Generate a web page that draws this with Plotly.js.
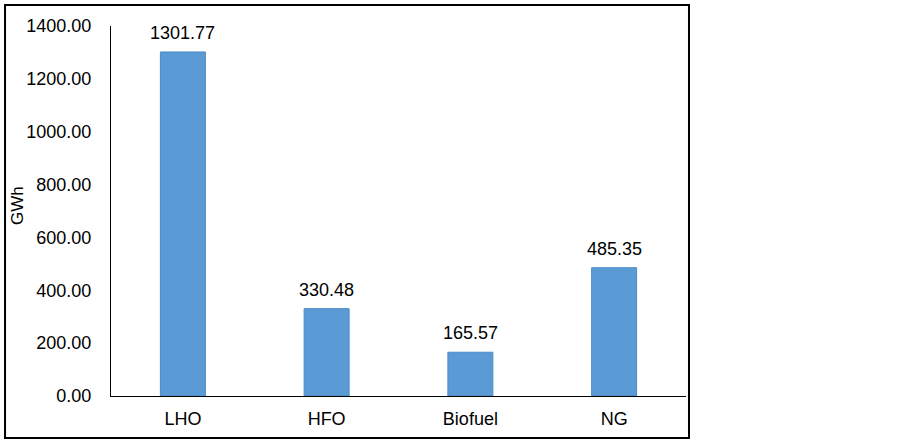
<!DOCTYPE html>
<html>
<head>
<meta charset="utf-8">
<script src="https://cdn.plot.ly/plotly-3.0.1.min.js"></script>
<style>
html,body{margin:0;padding:0;background:#fff;}
#chart{width:903px;height:441px;}
</style>
</head>
<body>
<div id="chart"></div>
<script>
const categories = ["LHO", "HFO", "Biofuel", "NG"];
const values = [1301.77, 330.48, 165.57, 485.35];
const valueLabels = ["1301.77", "330.48", "165.57", "485.35"];
const yTickVals = [0, 200, 400, 600, 800, 1000, 1200, 1400];
const yTickText = ["0.00", "200.00", "400.00", "600.00", "800.00", "1000.00", "1200.00", "1400.00"];
const yTitle = "GWh";

const font = "Liberation Sans, Arial, sans-serif";

const trace = {
  type: "bar",
  x: categories,
  y: values,
  marker: {color: "#5B9BD5", line: {color: "#4A8BC9", width: 1}},
  width: 0.313,
  hoverinfo: "skip"
};

const annotations = categories.map((c, i) => ({
  x: c, y: values[i], xref: "x", yref: "y",
  text: valueLabels[i], showarrow: false,
  yanchor: "bottom", yshift: 7,
  font: {family: font, size: 18, color: "#000"}
}));
annotations.push({
  xref: "paper", yref: "paper", x: -0.1635, y: 0.516,
  text: yTitle, textangle: -90, showarrow: false,
  xanchor: "center", yanchor: "middle",
  font: {family: font, size: 17, color: "#000"}
});

const layout = {
  width: 903, height: 441,
  margin: {l: 111, r: 217, t: 26, b: 45},
  paper_bgcolor: "#fff", plot_bgcolor: "#fff",
  showlegend: false,
  xaxis: {
    type: "category",
    showline: true, linecolor: "#000", linewidth: 1,
    ticks: "outside", ticklen: 6, tickcolor: "rgba(0,0,0,0)",
    tickfont: {family: font, size: 18, color: "#000"},
    showgrid: false, zeroline: false,
    range: [-0.5, 3.5]
  },
  yaxis: {
    range: [0, 1400],
    tickvals: yTickVals, ticktext: yTickText,
    showline: true, linecolor: "#000", linewidth: 1,
    ticks: "outside", ticklen: 15, tickcolor: "rgba(0,0,0,0)",
    tickfont: {family: font, size: 18, color: "#000"},
    showgrid: false, zeroline: false
  },
  shapes: [{
    type: "rect", xref: "paper", yref: "paper",
    x0: -0.1843, x1: 1.0052, y0: -0.1135, y1: 1.0568,
    line: {color: "#000", width: 2}
  }],
  annotations: annotations
};

Plotly.newPlot("chart", [trace], layout, {displayModeBar: false, staticPlot: true});
</script>
</body>
</html>
